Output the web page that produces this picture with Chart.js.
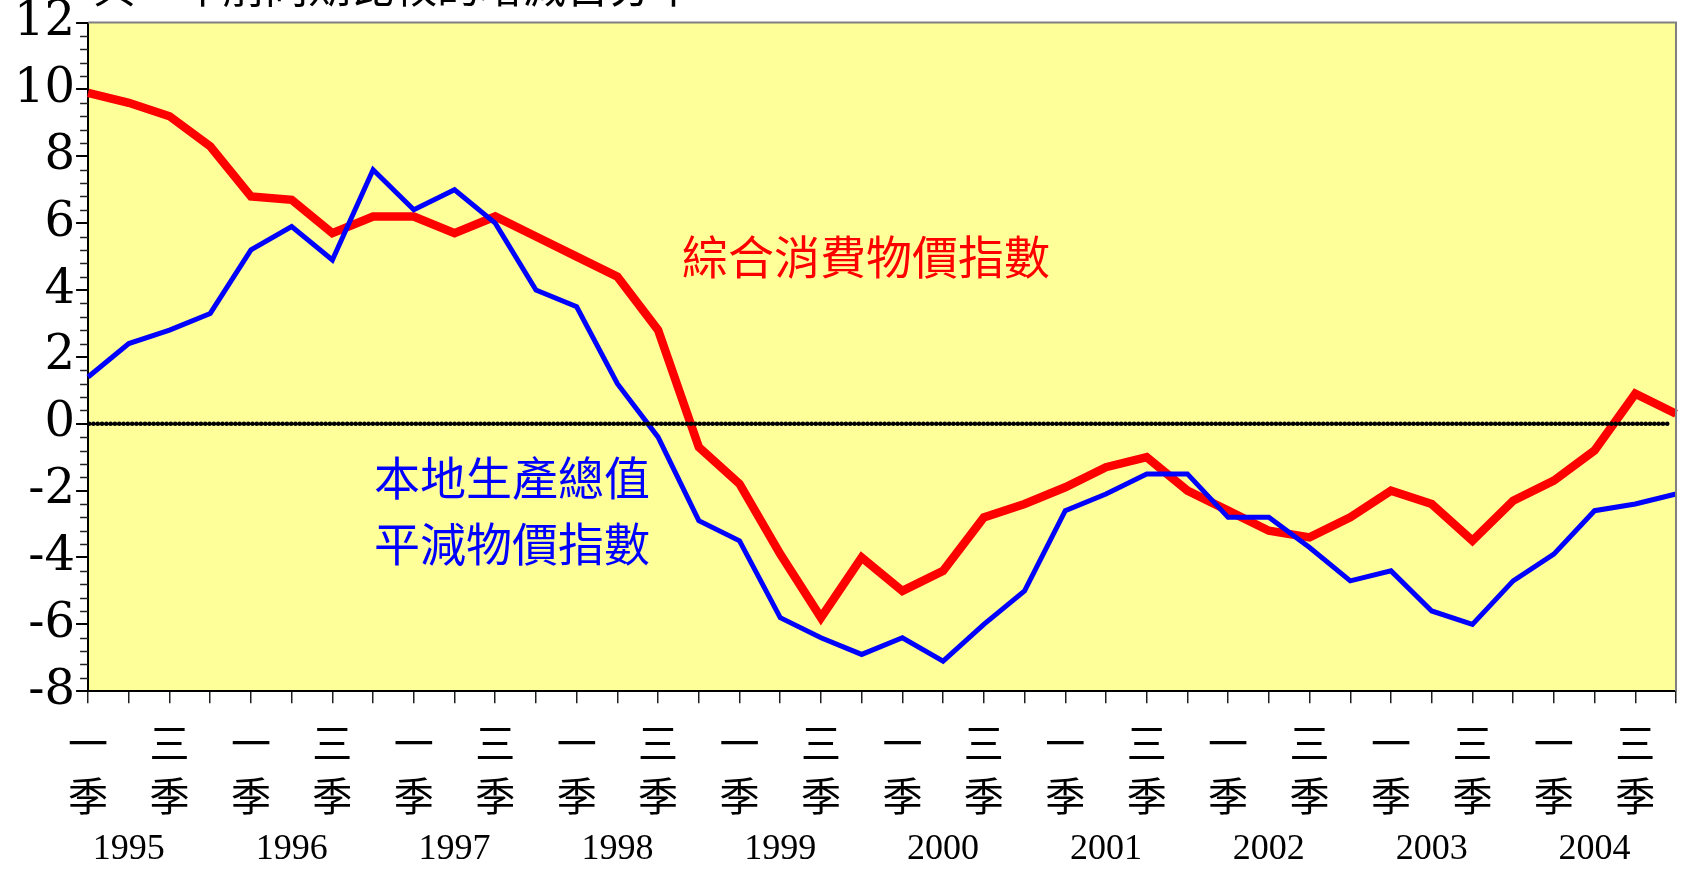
<!DOCTYPE html>
<html>
<head>
<meta charset="utf-8">
<script src="https://cdn.jsdelivr.net/npm/chart.js@4.4.1/dist/chart.umd.min.js"></script>
<style>
  html, body { margin: 0; padding: 0; background: #ffffff; }
  #wrap { position: relative; width: 1689px; height: 873px; }
  canvas { display: block; }
</style>
</head>
<body>
<div id="wrap"><canvas id="c" width="1689" height="873"></canvas></div>
<script>
// ---- Data ----
const years = ['1995','1996','1997','1998','1999','2000','2001','2002','2003','2004'];
const quarterNames = ['一','二','三','四'];
const categories = [];
years.forEach(y => quarterNames.forEach(q => categories.push(y + '年第' + q + '季')));

// Composite CPI, year-on-year % change
const cpi = [9.9, 9.6, 9.2, 8.3, 6.8, 6.7, 5.7, 6.2, 6.2, 5.7,
             6.2, 5.6, 5.0, 4.4, 2.8, -0.7, -1.8, -3.9, -5.8, -4.0,
             -5.0, -4.4, -2.8, -2.4, -1.9, -1.3, -1.0, -2.0, -2.6, -3.2,
             -3.4, -2.8, -2.0, -2.4, -3.5, -2.3, -1.7, -0.8, 0.9, 0.3];
// GDP deflator, year-on-year % change
const gdpDeflator = [1.4, 2.4, 2.8, 3.3, 5.2, 5.9, 4.9, 7.6, 6.4, 7.0,
                     6.0, 4.0, 3.5, 1.2, -0.4, -2.9, -3.5, -5.8, -6.4, -6.9,
                     -6.4, -7.1, -6.0, -5.0, -2.6, -2.1, -1.5, -1.5, -2.8, -2.8,
                     -3.7, -4.7, -4.4, -5.6, -6.0, -4.7, -3.9, -2.6, -2.4, -2.1];

const yMin = -8, yMax = 12, yMajorStep = 2, yMinorStep = 0.4;
const quarterTickLabels = ['一季', '', '三季', ''];   // shown per quarter position
const titleText = '與一年前同期比較的增減百分率';
const cpiLabel = '綜合消費物價指數';
const gdpLabelLines = ['本地生產總值', '平減物價指數'];

const CJK = '"Noto Sans CJK TC", "Noto Sans CJK SC", sans-serif';
const SERIF = '"Liberation Serif", "DejaVu Serif", serif';
const WIDE_SERIF = '"DejaVu Serif", "Liberation Serif", serif';

const deco = {
  id: 'deco',
  beforeDraw(chart) {
    const { ctx, chartArea: a } = chart;
    ctx.save();
    ctx.fillStyle = '#FFFF99';
    ctx.fillRect(a.left, a.top, a.right - a.left, a.bottom - a.top);
    ctx.restore();
  },
  afterDatasetsDraw(chart) {
    const { ctx, chartArea: a, scales } = chart;
    const y0 = scales.y.getPixelForValue(0);
    ctx.save();
    ctx.strokeStyle = '#000000';
    ctx.lineWidth = 4.5;
    ctx.lineCap = 'round';
    ctx.setLineDash([0.1, 4.2]);
    ctx.beginPath();
    ctx.moveTo(a.left + 1, y0);
    ctx.lineTo(a.right - 6, y0);
    ctx.stroke();
    ctx.restore();
  },
  afterDraw(chart) {
    const { ctx, chartArea: a, scales } = chart;
    ctx.save();
    // top & right frame
    ctx.strokeStyle = '#808080';
    ctx.lineWidth = 2;
    ctx.beginPath();
    ctx.moveTo(a.left, a.top);
    ctx.lineTo(a.right, a.top);
    ctx.lineTo(a.right, a.bottom);
    ctx.stroke();
    // minor y ticks
    ctx.strokeStyle = '#202020';
    ctx.lineWidth = 1.5;
    const n = Math.round((yMax - yMin) / yMinorStep);
    for (let k = 0; k <= n; k++) {
      const v = yMin + k * yMinorStep;
      if (Math.abs(v / yMajorStep - Math.round(v / yMajorStep)) < 1e-6) continue;
      const py = Math.round(scales.y.getPixelForValue(v)) + 0.5;
      ctx.beginPath();
      ctx.moveTo(a.left - 8, py);
      ctx.lineTo(a.left, py);
      ctx.stroke();
    }
    // title (cut at the top, as in the source)
    ctx.fillStyle = '#000000';
    ctx.font = '43px ' + CJK;
    ctx.textAlign = 'left';
    ctx.textBaseline = 'middle';
    ctx.fillText(titleText, 93, -13);
    // series labels
    ctx.font = '46px ' + CJK;
    ctx.fillStyle = '#FF0000';
    ctx.fillText(cpiLabel, 682, 257);
    ctx.fillStyle = '#0000FF';
    ctx.fillText(gdpLabelLines[0], 374, 478);
    ctx.fillText(gdpLabelLines[1], 374, 544);
    ctx.restore();
  }
};

new Chart(document.getElementById('c'), {
  type: 'line',
  data: {
    labels: categories,
    datasets: [
      { label: '本地生產總值平減物價指數', data: gdpDeflator, borderColor: '#0000FF', borderWidth: 5,
        pointRadius: 0, tension: 0, fill: false, borderJoinStyle: 'miter', xAxisID: 'x', yAxisID: 'y' },
      { label: '綜合消費物價指數', data: cpi, borderColor: '#FF0000', borderWidth: 8.5,
        pointRadius: 0, tension: 0, fill: false, borderJoinStyle: 'miter', xAxisID: 'x', yAxisID: 'y' }
    ]
  },
  options: {
    responsive: false,
    animation: false,
    devicePixelRatio: 1,
    layout: { padding: { left: 13, right: 0, top: 0, bottom: 9 } },
    plugins: { legend: { display: false }, tooltip: { enabled: false }, title: { display: false } },
    scales: {
      x: {
        type: 'category',
        position: 'bottom',
        offset: false,
        grid: { display: true, drawOnChartArea: false, drawTicks: true, tickLength: 12, color: '#202020', lineWidth: 1.5 },
        border: { display: true, color: '#000000', width: 2 },
        ticks: {
          autoSkip: false, maxRotation: 0, minRotation: 0, padding: 13, color: '#000000',
          font: { family: CJK, size: 40, lineHeight: 1.32 },
          callback: (val, i) => {
            const s = quarterTickLabels[i % 4];
            return s ? s.split('') : '';
          }
        }
      },
      x2: {
        type: 'category',
        position: 'bottom',
        offset: false,
        grid: { display: false, drawTicks: false },
        border: { display: false },
        ticks: {
          autoSkip: false, maxRotation: 0, minRotation: 0, padding: -7, color: '#000000',
          font: { family: SERIF, size: 36, lineHeight: 1.2 },
          callback: (val, i) => (i % 4 === 1 ? years[Math.floor(i / 4)] : '')
        }
      },
      y: {
        type: 'linear',
        min: yMin, max: yMax,
        grid: { display: true, drawOnChartArea: false, drawTicks: true, tickLength: 12, color: '#000000', lineWidth: 2 },
        border: { display: true, color: '#000000', width: 2 },
        ticks: {
          stepSize: yMajorStep, padding: 1, color: '#000000',
          font: { family: WIDE_SERIF, size: 48, lineHeight: 0.9 },
          callback: v => String(v)
        }
      }
    }
  },
  plugins: [deco]
});
</script>
</body>
</html>
